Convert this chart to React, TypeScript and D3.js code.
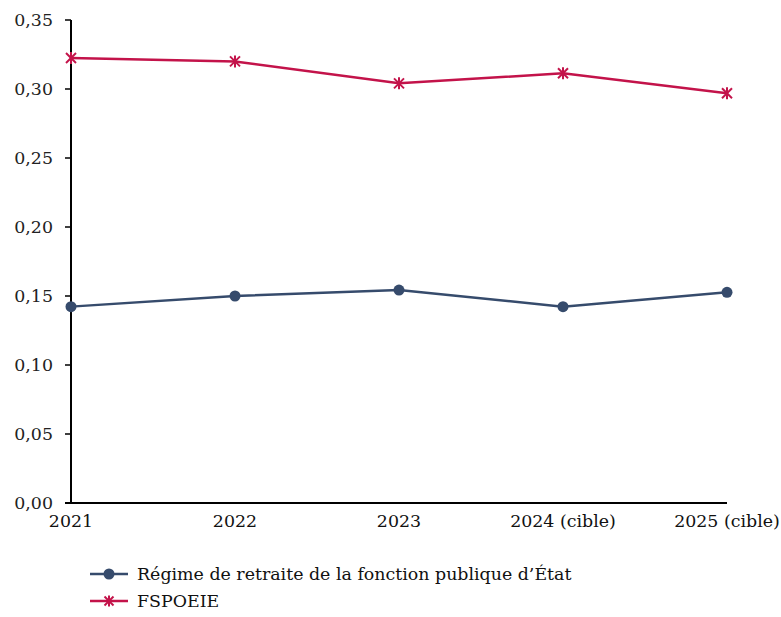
import React from "react";
import * as d3 from "d3";

const categories = ["2021", "2022", "2023", "2024 (cible)", "2025 (cible)"];
const regimeValues = [0.1423, 0.150, 0.1543, 0.1423, 0.1527];
const fspoeieValues = [0.3225, 0.320, 0.3041, 0.3114, 0.2969];
const yTicks = [0, 0.05, 0.1, 0.15, 0.2, 0.25, 0.3, 0.35];
const seriesNames = ["Régime de retraite de la fonction publique d’État", "FSPOEIE"];

const W = 781, H = 617;
const NAVY = "#364b6c";
const RED = "#c3134a";
const FONT = "DejaVu Serif";
const FS = 17.4;

export default function App() {
  const x = d3.scalePoint<string>().domain(categories).range([71, 727]);
  const y = d3.scaleLinear().domain([0, 0.35]).range([503, 20]);
  const line = d3.line<number>().x((_, i) => x(categories[i])!).y((d) => y(d));
  const fmt = (v: number) => v.toFixed(2).replace(".", ",");

  const star = (cx: number, cy: number, key: string, s = 5) => (
    <g key={key} stroke={RED} strokeWidth={2}>
      <line x1={cx - s} y1={cy - s} x2={cx + s} y2={cy + s} />
      <line x1={cx - s} y1={cy + s} x2={cx + s} y2={cy - s} />
      <line x1={cx} y1={cy - s - 1} x2={cx} y2={cy + s + 1} />
    </g>
  );

  return (
    <svg width={W} height={H} style={{ position: "absolute", left: 0, top: 0, background: "#fff", fontFamily: FONT }}>
      {/* axes */}
      <line x1={71} y1={y(0.35)} x2={71} y2={y(0)} stroke="#000" strokeWidth={2} />
      <line x1={65} y1={y(0)} x2={727} y2={y(0)} stroke="#000" strokeWidth={2} />
      {yTicks.map((t) => (
        <g key={t}>
          <line x1={65} x2={71} y1={y(t)} y2={y(t)} stroke="#000" strokeWidth={1.5} />
          <text x={53} y={y(t)} dy="0.35em" textAnchor="end" fontSize={FS} fill="#222">{fmt(t)}</text>
        </g>
      ))}
      {categories.map((c) => (
        <text key={c} x={x(c)} y={527} textAnchor="middle" fontSize={FS} fill="#111">{c}</text>
      ))}
      {/* series */}
      <path d={line(regimeValues)!} fill="none" stroke={NAVY} strokeWidth={2.5} />
      {regimeValues.map((v, i) => (
        <circle key={i} cx={x(categories[i])} cy={y(v)} r={5.5} fill={NAVY} />
      ))}
      <path d={line(fspoeieValues)!} fill="none" stroke={RED} strokeWidth={2.5} />
      {fspoeieValues.map((v, i) => star(x(categories[i])!, y(v), "s" + i))}
      {/* legend */}
      <line x1={90} x2={128} y1={574} y2={574} stroke={NAVY} strokeWidth={2.5} />
      <circle cx={109} cy={574} r={5.5} fill={NAVY} />
      <text x={137} y={574} dy="0.35em" fontSize={FS} fill="#111">{seriesNames[0]}</text>
      <line x1={90} x2={128} y1={601} y2={601} stroke={RED} strokeWidth={2.5} />
      {star(109, 601, "ls", 4.5)}
      <text x={137} y={601} dy="0.35em" fontSize={FS} fill="#111">{seriesNames[1]}</text>
    </svg>
  );
}
